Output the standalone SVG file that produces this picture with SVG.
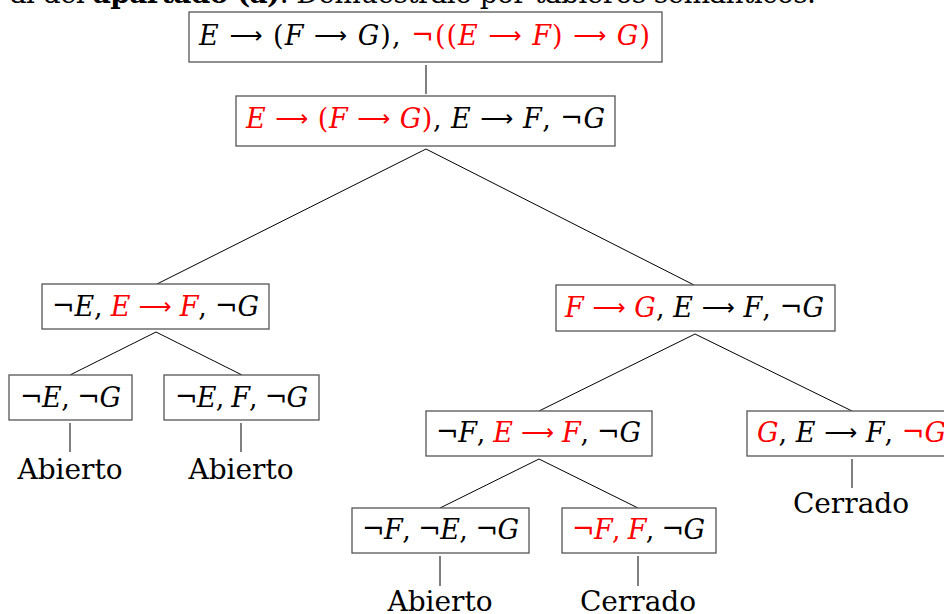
<svg xmlns="http://www.w3.org/2000/svg" width="944" height="614" viewBox="0 0 944 614">
<style>
text{font-family:"DejaVu Serif","Liberation Serif",serif;font-size:28px;fill:#000}
.m{font-size:27px}
.i{font-style:italic}
.a{font-family:"DejaVu Sans","DejaVu Serif",sans-serif;font-size:23px;baseline-shift:2px}
.r{fill:#ff0000}
.box{fill:#fff;stroke:#555;stroke-width:1.3}
.c line{stroke:#000;stroke-width:1}
</style>
<rect width="944" height="614" fill="#fff"/>
<text x="10" y="3" font-size="27" textLength="806" lengthAdjust="spacing">al del <tspan font-weight="bold">apartado (a)</tspan>. Demuéstralo por tableros semánticos.</text>
<g class="c" id="connectors">
<line x1="426" y1="65" x2="426" y2="94"/>
<line x1="426" y1="149" x2="157" y2="284"/>
<line x1="426" y1="149" x2="694" y2="285"/>
<line x1="156" y1="332" x2="70" y2="375"/>
<line x1="156" y1="332" x2="242" y2="375"/>
<line x1="70" y1="423" x2="70" y2="452"/>
<line x1="241" y1="423" x2="241" y2="452"/>
<line x1="695" y1="334" x2="539" y2="411"/>
<line x1="695" y1="334" x2="852" y2="411"/>
<line x1="852" y1="459" x2="852" y2="488"/>
<line x1="539" y1="459" x2="440" y2="508"/>
<line x1="539" y1="459" x2="638" y2="508"/>
<line x1="440" y1="556" x2="440" y2="586"/>
<line x1="638" y1="556" x2="638" y2="586"/>
</g>
<g id="n1">
<rect class="box" x="189" y="12" width="473" height="50"/>
<text class="m" x="199" y="45" textLength="451" lengthAdjust="spacing"><tspan class="i">E</tspan> <tspan class="a">⟶</tspan> (<tspan class="i">F</tspan> <tspan class="a">⟶</tspan> <tspan class="i">G</tspan>), <tspan class="r">¬((<tspan class="i">E</tspan> <tspan class="a">⟶</tspan> <tspan class="i">F</tspan>) <tspan class="a">⟶</tspan> <tspan class="i">G</tspan>)</tspan></text>
</g>
<g id="n2">
<rect class="box" x="236" y="96" width="379" height="50"/>
<text class="m" x="246" y="128" textLength="359" lengthAdjust="spacing"><tspan class="r"><tspan class="i">E</tspan> <tspan class="a">⟶</tspan> (<tspan class="i">F</tspan> <tspan class="a">⟶</tspan> <tspan class="i">G</tspan>)</tspan>, <tspan class="i">E</tspan> <tspan class="a">⟶</tspan> <tspan class="i">F</tspan>, ¬<tspan class="i">G</tspan></text>
</g>
<g id="n3">
<rect class="box" x="42" y="284" width="227" height="45"/>
<text class="m" x="52" y="316" textLength="207" lengthAdjust="spacing">¬<tspan class="i">E</tspan>, <tspan class="r"><tspan class="i">E</tspan> <tspan class="a">⟶</tspan> <tspan class="i">F</tspan></tspan>, ¬<tspan class="i">G</tspan></text>
</g>
<g id="n4">
<rect class="box" x="9" y="375" width="123" height="45"/>
<text class="m" x="20" y="407" textLength="101" lengthAdjust="spacing">¬<tspan class="i">E</tspan>, ¬<tspan class="i">G</tspan></text>
</g>
<g id="n5">
<rect class="box" x="164" y="375" width="155" height="45"/>
<text class="m" x="175" y="407" textLength="133" lengthAdjust="spacing">¬<tspan class="i">E</tspan>, <tspan class="i">F</tspan>, ¬<tspan class="i">G</tspan></text>
</g>
<g id="n6">
<rect class="box" x="556" y="285" width="279" height="46"/>
<text class="m" x="565" y="317" textLength="259" lengthAdjust="spacing"><tspan class="r"><tspan class="i">F</tspan> <tspan class="a">⟶</tspan> <tspan class="i">G</tspan></tspan>, <tspan class="i">E</tspan> <tspan class="a">⟶</tspan> <tspan class="i">F</tspan>, ¬<tspan class="i">G</tspan></text>
</g>
<g id="n7">
<rect class="box" x="426" y="411" width="226" height="45"/>
<text class="m" x="436" y="442" textLength="205" lengthAdjust="spacing">¬<tspan class="i">F</tspan>, <tspan class="r"><tspan class="i">E</tspan> <tspan class="a">⟶</tspan> <tspan class="i">F</tspan></tspan>, ¬<tspan class="i">G</tspan></text>
</g>
<g id="n8">
<rect class="box" x="747" y="411" width="213" height="45"/>
<text class="m" x="757" y="442" textLength="189" lengthAdjust="spacing"><tspan class="r i">G</tspan>, <tspan class="i">E</tspan> <tspan class="a">⟶</tspan> <tspan class="i">F</tspan>, <tspan class="r">¬<tspan class="i">G</tspan></tspan></text>
</g>
<g id="n9">
<rect class="box" x="352" y="508" width="177" height="45"/>
<text class="m" x="362" y="539" textLength="157" lengthAdjust="spacing">¬<tspan class="i">F</tspan>, ¬<tspan class="i">E</tspan>, ¬<tspan class="i">G</tspan></text>
</g>
<g id="n10">
<rect class="box" x="562" y="508" width="154" height="45"/>
<text class="m" x="572" y="539" textLength="133" lengthAdjust="spacing"><tspan class="r">¬<tspan class="i">F</tspan>, <tspan class="i">F</tspan></tspan>, ¬<tspan class="i">G</tspan></text>
</g>
<g id="labels">
<text x="70" y="479" text-anchor="middle">Abierto</text>
<text x="241" y="479" text-anchor="middle">Abierto</text>
<text x="851" y="513" text-anchor="middle">Cerrado</text>
<text x="440" y="611" text-anchor="middle">Abierto</text>
<text x="638" y="611" text-anchor="middle">Cerrado</text>
</g>
</svg>
